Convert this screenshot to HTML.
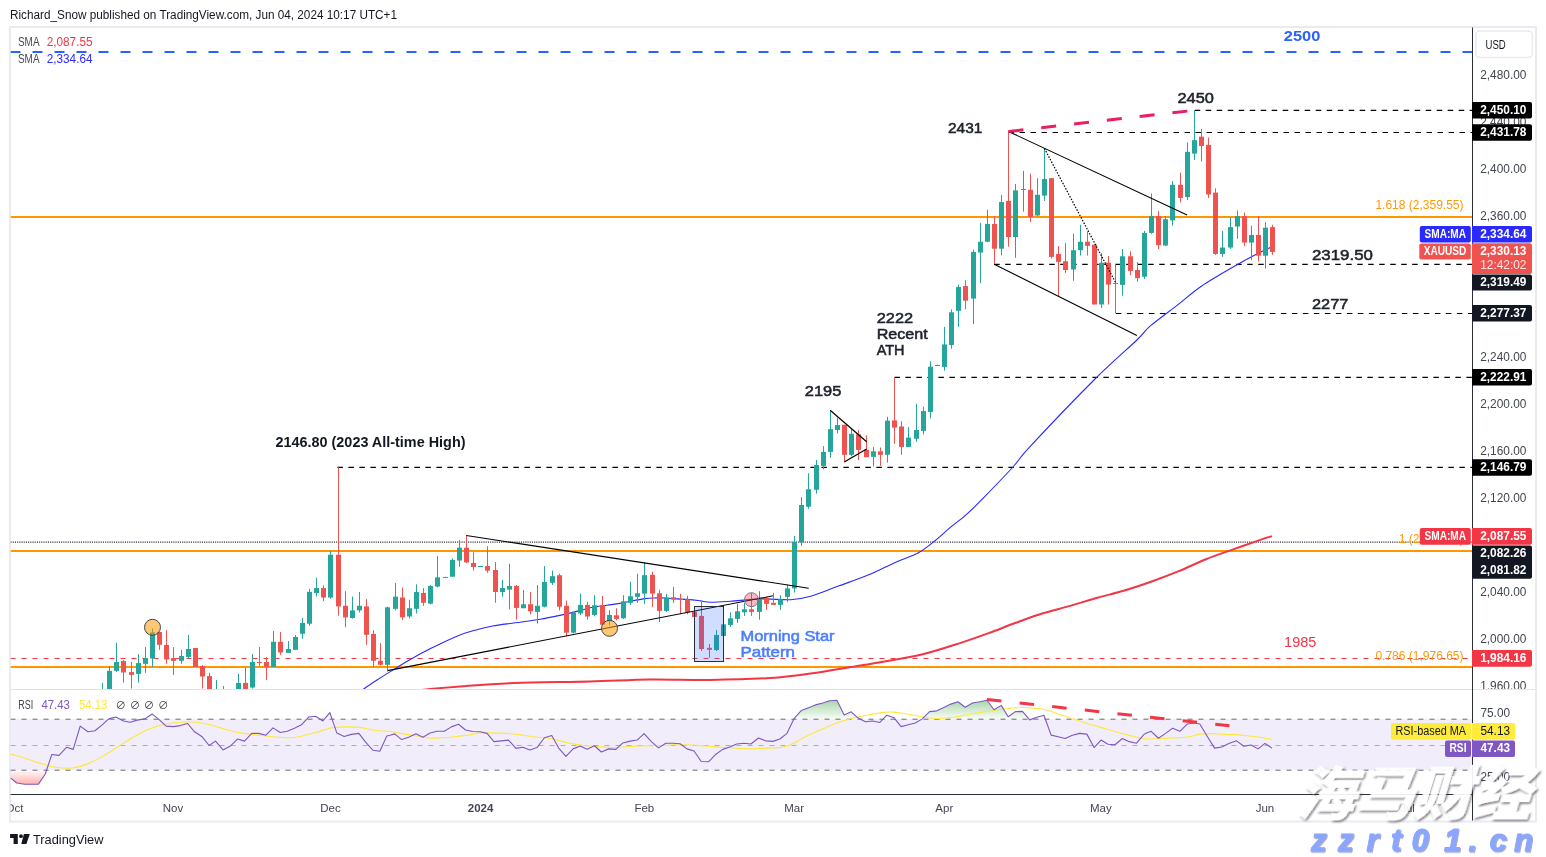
<!DOCTYPE html>
<html lang="en"><head><meta charset="utf-8"><title>XAUUSD chart - TradingView</title>
<style>
html,body{margin:0;padding:0;background:#fff;}
body{width:1546px;height:857px;overflow:hidden;}
svg{display:block;}
text{font-family:"Liberation Sans","Noto Sans CJK SC",sans-serif;}
.ax{font-size:12px;fill:#434651;}
.lb{font-size:12px;font-weight:bold;fill:#fff;}
.note{font-size:15px;font-weight:normal;fill:#1e222d;stroke:#1e222d;stroke-width:0.55px;}
.fib{font-size:12px;fill:#ff9800;}
</style></head><body>
<svg width="1546" height="857" viewBox="0 0 1546 857">
<defs>
<clipPath id="cm"><rect x="10.5" y="27.5" width="1462.0" height="662.0"/></clipPath>
<clipPath id="cr"><rect x="10.5" y="689.5" width="1462.0" height="105.0"/></clipPath>
<clipPath id="cob"><rect x="10.5" y="689.5" width="1462.0" height="29.700000000000045"/></clipPath>
<clipPath id="cos"><rect x="10.5" y="770.2" width="1462.0" height="24.299999999999955"/></clipPath>
<linearGradient id="gg" gradientUnits="userSpaceOnUse" x1="0" y1="698" x2="0" y2="719.2"><stop offset="0" stop-color="#4caf50" stop-opacity="0.55"/><stop offset="1" stop-color="#4caf50" stop-opacity="0.03"/></linearGradient>
<linearGradient id="gr" gradientUnits="userSpaceOnUse" x1="0" y1="770.2" x2="0" y2="786"><stop offset="0" stop-color="#ff5252" stop-opacity="0.03"/><stop offset="1" stop-color="#ff5252" stop-opacity="0.5"/></linearGradient>
<clipPath id="ct"><rect x="10.5" y="795" width="1500" height="26"/></clipPath>
</defs>
<rect width="1546" height="857" fill="#fff"/>
<text x="10" y="19" font-size="12" fill="#131722" textLength="387" lengthAdjust="spacingAndGlyphs">Richard_Snow published on TradingView.com, Jun 04, 2024 10:17 UTC+1</text>
<rect x="10" y="27" width="1526" height="794.5" fill="#fff" stroke="#e9ebf1" stroke-width="2"/>
<g clip-path="url(#cm)">
<line x1="10.5" y1="52" x2="1472.5" y2="52" stroke="#2962ff" stroke-width="2" stroke-dasharray="10 12" stroke-dashoffset="0"/>
<line x1="10.5" y1="216.9" x2="1472.5" y2="216.9" stroke="#ff9800" stroke-width="2"/>
<line x1="10.5" y1="551" x2="1472.5" y2="551" stroke="#ff9800" stroke-width="2"/>
<line x1="10.5" y1="666.9" x2="1472.5" y2="666.9" stroke="#ff9800" stroke-width="2"/>
<line x1="10.5" y1="542.1" x2="1472.5" y2="542.1" stroke="#2a2e39" stroke-width="1.15" stroke-dasharray="1.1 1.1"/>
<line x1="10.5" y1="658.5" x2="1472.5" y2="658.5" stroke="#f23645" stroke-width="1" stroke-dasharray="5 6"/>
<line x1="1194.7" y1="110.4" x2="1472.5" y2="110.4" stroke="#000" stroke-width="1.2" stroke-dasharray="5.5 5.5"/>
<line x1="1008.5" y1="132.5" x2="1472.5" y2="132.5" stroke="#000" stroke-width="1.2" stroke-dasharray="5.5 5.5"/>
<line x1="994.2" y1="264.4" x2="1472.5" y2="264.4" stroke="#000" stroke-width="1.2" stroke-dasharray="5.5 5.5"/>
<line x1="1115.9" y1="313.5" x2="1472.5" y2="313.5" stroke="#000" stroke-width="1.2" stroke-dasharray="5.5 5.5"/>
<line x1="894.4" y1="377.4" x2="1472.5" y2="377.4" stroke="#000" stroke-width="1.2" stroke-dasharray="5.5 5.5"/>
<line x1="337.4" y1="467.4" x2="1472.5" y2="467.4" stroke="#000" stroke-width="1.2" stroke-dasharray="5.5 5.5"/>
<text class="fib" x="1463.5" y="209" text-anchor="end">1.618 (2,359.55)</text>
<text class="fib" x="1463.5" y="543" text-anchor="end">1 (2,082.26)</text>
<text class="fib" x="1463.5" y="659.5" text-anchor="end">0.786 (1,976.65)</text>
<path d="M355 696 C356.33 694.92 359.33 692.17 363 689.5 C366.67 686.83 372.03 683.23 377 680 C381.97 676.77 387.25 673.5 392.8 670.1 C398.35 666.7 404.18 663.1 410.3 659.6 C416.42 656.1 421.63 653.05 429.5 649.1 C437.37 645.15 449.9 639.05 457.5 635.9 C465.1 632.75 469.25 631.85 475.1 630.2 C480.95 628.55 485.9 627.23 492.6 626 C499.3 624.77 507.4 623.92 515.3 622.8 C523.2 621.68 532.38 620.58 540 619.3 C547.62 618.02 554.53 616.5 561 615.1 C567.47 613.7 573.55 612.2 578.8 610.9 C584.05 609.6 587.77 608.25 592.5 607.3 C597.23 606.35 602.65 605.85 607.2 605.2 C611.75 604.55 615.25 604.2 619.8 603.4 C624.35 602.6 630.3 601.2 634.5 600.4 C638.7 599.6 641.85 599 645 598.6 C648.15 598.2 649.9 598.1 653.4 598 C656.9 597.9 662.15 597.85 666 598 C669.85 598.15 673 598.67 676.5 598.9 C680 599.13 683.08 599.08 687 599.4 C690.92 599.72 696.1 600.32 700 600.8 C703.9 601.28 705.33 602.22 710.4 602.3 C715.47 602.38 722.05 601.87 730.4 601.3 C738.75 600.73 750.47 599.17 760.5 598.9 C770.53 598.63 782.23 600.15 790.6 599.7 C798.97 599.25 802.75 598.47 810.7 596.2 C818.65 593.93 828.83 589.58 838.3 586.1 C847.77 582.62 857.83 579.33 867.5 575.3 C877.17 571.27 887.88 565.62 896.3 561.9 C904.72 558.18 911.67 556.43 918 553 C924.33 549.57 928.87 545.6 934.3 541.3 C939.73 537 945.17 531.73 950.6 527.2 C956.03 522.67 961.3 519.12 966.9 514.1 C972.5 509.08 976.45 505.03 984.2 497.1 C991.95 489.17 1005.77 474.92 1013.4 466.5 C1021.03 458.08 1016.57 461.02 1030 446.6 C1043.43 432.18 1076.18 397.77 1094 380 C1111.82 362.23 1127.47 349.05 1136.9 340 C1146.33 330.95 1143.7 331.63 1150.6 325.7 C1157.5 319.77 1169.78 311.02 1178.3 304.4 C1186.82 297.78 1191.97 292.57 1201.7 286 C1211.43 279.43 1227.47 270.35 1236.7 265 C1245.93 259.65 1251.52 256.82 1257.1 253.9 C1262.68 250.98 1268.02 248.57 1270.2 247.5" fill="none" stroke="#2a2aff" stroke-width="1.1" stroke-linejoin="round"/>
<path d="M405 692 C407.83 691.65 412.83 690.82 422 689.9 C431.17 688.98 444.67 687.65 460 686.5 C475.33 685.35 492.33 683.83 514 683 C535.67 682.17 567.33 682.08 590 681.5 C612.67 680.92 630 679.77 650 679.5 C670 679.23 689.9 680.17 710 679.9 C730.1 679.63 753.82 678.97 770.6 677.9 C787.38 676.83 797.33 675.3 810.7 673.5 C824.07 671.7 839.25 668.98 850.8 667.1 C862.35 665.22 868.35 664.25 880 662.2 C891.65 660.15 907.12 658.07 920.7 654.8 C934.28 651.53 950.17 646.22 961.5 642.6 C972.83 638.98 979.65 636.4 988.7 633.1 C997.75 629.8 1006.75 626.1 1015.8 622.8 C1024.85 619.5 1033.93 616.12 1043 613.3 C1052.07 610.48 1061.15 608.48 1070.2 605.9 C1079.25 603.32 1088.25 600.37 1097.3 597.8 C1106.35 595.23 1115.43 593.22 1124.5 590.5 C1133.57 587.78 1142.65 584.72 1151.7 581.5 C1160.75 578.28 1169.75 574.92 1178.8 571.2 C1187.85 567.48 1196.93 562.83 1206 559.2 C1215.07 555.57 1224.15 552.62 1233.2 549.4 C1242.25 546.18 1253.83 542.12 1260.3 539.9 C1266.77 537.68 1270.05 536.73 1272 536.1" fill="none" stroke="#f23645" stroke-width="2" stroke-linejoin="round"/>
<rect x="102" y="682.92" width="1" height="11.64" fill="#26a69a"/>
<rect x="100" y="694" width="5" height="1" fill="#26a69a"/>
<rect x="109" y="666.07" width="1" height="28.49" fill="#26a69a"/>
<rect x="107" y="670.88" width="5" height="23.68" fill="#26a69a"/>
<rect x="116" y="642.79" width="1" height="29.09" fill="#26a69a"/>
<rect x="114" y="662.05" width="5" height="8.83" fill="#26a69a"/>
<rect x="123" y="660.05" width="1" height="22.47" fill="#ef5350"/>
<rect x="121" y="661.05" width="5" height="11.44" fill="#ef5350"/>
<rect x="131" y="662.05" width="1" height="26.48" fill="#ef5350"/>
<rect x="129" y="672.09" width="5" height="2.81" fill="#ef5350"/>
<rect x="138" y="654.03" width="1" height="28.49" fill="#26a69a"/>
<rect x="136" y="663.06" width="5" height="10.83" fill="#26a69a"/>
<rect x="145" y="647.01" width="1" height="25.88" fill="#26a69a"/>
<rect x="143" y="658.04" width="5" height="5.82" fill="#26a69a"/>
<rect x="152" y="628.35" width="1" height="38.52" fill="#26a69a"/>
<rect x="150" y="632.36" width="5" height="26.08" fill="#26a69a"/>
<rect x="159" y="631.96" width="1" height="17.86" fill="#ef5350"/>
<rect x="157" y="631.96" width="5" height="12.84" fill="#ef5350"/>
<rect x="166" y="629.95" width="1" height="33.91" fill="#ef5350"/>
<rect x="164" y="645" width="5" height="14.45" fill="#ef5350"/>
<rect x="173" y="647.01" width="1" height="27.89" fill="#ef5350"/>
<rect x="171" y="658.04" width="5" height="2.81" fill="#ef5350"/>
<rect x="181" y="650.02" width="1" height="13.84" fill="#26a69a"/>
<rect x="179" y="656.04" width="5" height="4.82" fill="#26a69a"/>
<rect x="188" y="634.97" width="1" height="23.48" fill="#26a69a"/>
<rect x="186" y="649.01" width="5" height="8.03" fill="#26a69a"/>
<rect x="195" y="648.01" width="1" height="18.86" fill="#ef5350"/>
<rect x="193" y="648.01" width="5" height="18.86" fill="#ef5350"/>
<rect x="202" y="665.06" width="1" height="23.48" fill="#ef5350"/>
<rect x="200" y="666.07" width="5" height="10.43" fill="#ef5350"/>
<rect x="209" y="672.89" width="1" height="21.67" fill="#ef5350"/>
<rect x="207" y="676.1" width="5" height="18.46" fill="#ef5350"/>
<rect x="216" y="679.91" width="1" height="14.65" fill="#26a69a"/>
<rect x="214" y="694" width="5" height="1" fill="#26a69a"/>
<rect x="223" y="685.93" width="1" height="8.63" fill="#ef5350"/>
<rect x="221" y="694" width="5" height="1" fill="#ef5350"/>
<rect x="238" y="673.89" width="1" height="20.67" fill="#26a69a"/>
<rect x="236" y="682.92" width="5" height="11.64" fill="#26a69a"/>
<rect x="245" y="667.87" width="1" height="26.69" fill="#ef5350"/>
<rect x="243" y="682.92" width="5" height="11.64" fill="#ef5350"/>
<rect x="252" y="654.03" width="1" height="34.51" fill="#26a69a"/>
<rect x="250" y="662.05" width="5" height="25.48" fill="#26a69a"/>
<rect x="259" y="647.01" width="1" height="18.86" fill="#ef5350"/>
<rect x="257" y="662" width="5" height="1" fill="#ef5350"/>
<rect x="266" y="657.04" width="1" height="22.87" fill="#ef5350"/>
<rect x="264" y="662.05" width="5" height="4.82" fill="#ef5350"/>
<rect x="273" y="630.96" width="1" height="35.91" fill="#26a69a"/>
<rect x="271" y="641.79" width="5" height="25.08" fill="#26a69a"/>
<rect x="280" y="631.96" width="1" height="22.87" fill="#ef5350"/>
<rect x="278" y="641.79" width="5" height="10.63" fill="#ef5350"/>
<rect x="288" y="640.99" width="1" height="11.84" fill="#26a69a"/>
<rect x="286" y="649.01" width="5" height="3.81" fill="#26a69a"/>
<rect x="295" y="634.97" width="1" height="14.85" fill="#26a69a"/>
<rect x="293" y="636.97" width="5" height="12.84" fill="#26a69a"/>
<rect x="302" y="617.91" width="1" height="20.87" fill="#26a69a"/>
<rect x="300" y="622.93" width="5" height="10.83" fill="#26a69a"/>
<rect x="309" y="588.82" width="1" height="36.92" fill="#26a69a"/>
<rect x="307" y="591.83" width="5" height="31.9" fill="#26a69a"/>
<rect x="316" y="577.66" width="1" height="18.95" fill="#26a69a"/>
<rect x="314" y="588.06" width="5" height="4.89" fill="#26a69a"/>
<rect x="323" y="585.3" width="1" height="15.9" fill="#ef5350"/>
<rect x="321" y="588.06" width="5" height="9.48" fill="#ef5350"/>
<rect x="330" y="550.76" width="1" height="48" fill="#26a69a"/>
<rect x="328" y="554.73" width="5" height="42.8" fill="#26a69a"/>
<rect x="338" y="467.3" width="1" height="148.27" fill="#ef5350"/>
<rect x="336" y="554.73" width="5" height="51.67" fill="#ef5350"/>
<rect x="345" y="591.11" width="1" height="36.07" fill="#ef5350"/>
<rect x="343" y="605.79" width="5" height="11.62" fill="#ef5350"/>
<rect x="352" y="596.62" width="1" height="22.01" fill="#26a69a"/>
<rect x="350" y="610.37" width="5" height="7.64" fill="#26a69a"/>
<rect x="359" y="592.03" width="1" height="20.48" fill="#26a69a"/>
<rect x="357" y="605.79" width="5" height="4.59" fill="#26a69a"/>
<rect x="366" y="599.06" width="1" height="45.86" fill="#ef5350"/>
<rect x="364" y="606.4" width="5" height="28.43" fill="#ef5350"/>
<rect x="373" y="630.24" width="1" height="36.69" fill="#ef5350"/>
<rect x="371" y="633.91" width="5" height="26.9" fill="#ef5350"/>
<rect x="380" y="643.08" width="1" height="22.32" fill="#ef5350"/>
<rect x="378" y="660.82" width="5" height="3.97" fill="#ef5350"/>
<rect x="387" y="606.7" width="1" height="64.81" fill="#26a69a"/>
<rect x="385" y="607.32" width="5" height="57.47" fill="#26a69a"/>
<rect x="395" y="582.86" width="1" height="27.51" fill="#26a69a"/>
<rect x="393" y="596.62" width="5" height="12.23" fill="#26a69a"/>
<rect x="402" y="587.44" width="1" height="32.71" fill="#ef5350"/>
<rect x="400" y="597.53" width="5" height="19.87" fill="#ef5350"/>
<rect x="409" y="599.67" width="1" height="18.95" fill="#26a69a"/>
<rect x="407" y="608.23" width="5" height="8.25" fill="#26a69a"/>
<rect x="416" y="584.39" width="1" height="29.04" fill="#26a69a"/>
<rect x="414" y="592.03" width="5" height="16.81" fill="#26a69a"/>
<rect x="423" y="588.06" width="1" height="17.73" fill="#ef5350"/>
<rect x="421" y="592.95" width="5" height="9.78" fill="#ef5350"/>
<rect x="430" y="585" width="1" height="19.26" fill="#26a69a"/>
<rect x="428" y="585.92" width="5" height="17.73" fill="#26a69a"/>
<rect x="437" y="556.26" width="1" height="31.18" fill="#26a69a"/>
<rect x="435" y="577.36" width="5" height="9.17" fill="#26a69a"/>
<rect x="445" y="576.74" width="1" height="0.92" fill="#ef5350"/>
<rect x="443" y="577" width="5" height="1" fill="#ef5350"/>
<rect x="452" y="558.4" width="1" height="18.34" fill="#26a69a"/>
<rect x="450" y="559.93" width="5" height="16.81" fill="#26a69a"/>
<rect x="459" y="540.06" width="1" height="26.6" fill="#26a69a"/>
<rect x="457" y="547.7" width="5" height="12.84" fill="#26a69a"/>
<rect x="466" y="535.47" width="1" height="27.51" fill="#ef5350"/>
<rect x="464" y="547.7" width="5" height="14.67" fill="#ef5350"/>
<rect x="473" y="552.29" width="1" height="18.34" fill="#ef5350"/>
<rect x="471" y="562.99" width="5" height="3.97" fill="#ef5350"/>
<rect x="480" y="566.04" width="1" height="0.61" fill="#26a69a"/>
<rect x="478" y="566" width="5" height="1" fill="#26a69a"/>
<rect x="487" y="546.17" width="1" height="26.6" fill="#ef5350"/>
<rect x="485" y="566.04" width="5" height="4.59" fill="#ef5350"/>
<rect x="495" y="562.07" width="1" height="40.66" fill="#ef5350"/>
<rect x="493" y="570.02" width="5" height="22.01" fill="#ef5350"/>
<rect x="502" y="579.8" width="1" height="16.81" fill="#26a69a"/>
<rect x="500" y="588.06" width="5" height="3.97" fill="#26a69a"/>
<rect x="509" y="563.6" width="1" height="45.86" fill="#26a69a"/>
<rect x="507" y="585.92" width="5" height="3.67" fill="#26a69a"/>
<rect x="516" y="585" width="1" height="34.55" fill="#ef5350"/>
<rect x="514" y="585.92" width="5" height="22.01" fill="#ef5350"/>
<rect x="523" y="589.89" width="1" height="18.34" fill="#26a69a"/>
<rect x="521" y="604.26" width="5" height="3.97" fill="#26a69a"/>
<rect x="530" y="592.03" width="1" height="22.32" fill="#ef5350"/>
<rect x="528" y="604.26" width="5" height="7.03" fill="#ef5350"/>
<rect x="537" y="585" width="1" height="38.52" fill="#26a69a"/>
<rect x="535" y="605.79" width="5" height="6.11" fill="#26a69a"/>
<rect x="544" y="566.04" width="1" height="41.27" fill="#26a69a"/>
<rect x="542" y="581.94" width="5" height="24.76" fill="#26a69a"/>
<rect x="552" y="570.63" width="1" height="14.37" fill="#26a69a"/>
<rect x="550" y="576.13" width="5" height="6.73" fill="#26a69a"/>
<rect x="559" y="573.69" width="1" height="36.69" fill="#ef5350"/>
<rect x="557" y="575.22" width="5" height="31.49" fill="#ef5350"/>
<rect x="566" y="600.59" width="1" height="35.77" fill="#ef5350"/>
<rect x="564" y="605.79" width="5" height="26.9" fill="#ef5350"/>
<rect x="573" y="612.51" width="1" height="20.79" fill="#26a69a"/>
<rect x="571" y="612.51" width="5" height="20.18" fill="#26a69a"/>
<rect x="580" y="593.56" width="1" height="21.4" fill="#26a69a"/>
<rect x="578" y="604.87" width="5" height="8.56" fill="#26a69a"/>
<rect x="587" y="601.81" width="1" height="17.73" fill="#ef5350"/>
<rect x="585" y="604.87" width="5" height="11.62" fill="#ef5350"/>
<rect x="594" y="595.24" width="1" height="21.07" fill="#26a69a"/>
<rect x="592" y="605.27" width="5" height="9.63" fill="#26a69a"/>
<rect x="602" y="595.84" width="1" height="29.49" fill="#ef5350"/>
<rect x="600" y="605.27" width="5" height="19.46" fill="#ef5350"/>
<rect x="609" y="610.29" width="1" height="15.05" fill="#26a69a"/>
<rect x="607" y="614.9" width="5" height="6.42" fill="#26a69a"/>
<rect x="616" y="608.28" width="1" height="12.04" fill="#ef5350"/>
<rect x="614" y="615.3" width="5" height="3.61" fill="#ef5350"/>
<rect x="623" y="595.24" width="1" height="23.68" fill="#26a69a"/>
<rect x="621" y="601.26" width="5" height="17.05" fill="#26a69a"/>
<rect x="630" y="581.8" width="1" height="23.07" fill="#26a69a"/>
<rect x="628" y="596.24" width="5" height="6.62" fill="#26a69a"/>
<rect x="637" y="573.77" width="1" height="29.09" fill="#26a69a"/>
<rect x="635" y="593.23" width="5" height="3.61" fill="#26a69a"/>
<rect x="644" y="562.13" width="1" height="41.73" fill="#26a69a"/>
<rect x="642" y="575.18" width="5" height="18.46" fill="#26a69a"/>
<rect x="652" y="571.77" width="1" height="35.11" fill="#ef5350"/>
<rect x="650" y="574.78" width="5" height="18.86" fill="#ef5350"/>
<rect x="659" y="589.82" width="1" height="32.1" fill="#ef5350"/>
<rect x="657" y="593.23" width="5" height="17.66" fill="#ef5350"/>
<rect x="666" y="593.84" width="1" height="18.06" fill="#26a69a"/>
<rect x="664" y="597.65" width="5" height="13.24" fill="#26a69a"/>
<rect x="673" y="586.81" width="1" height="16.05" fill="#ef5350"/>
<rect x="671" y="597.25" width="5" height="2.41" fill="#ef5350"/>
<rect x="680" y="593.84" width="1" height="20.47" fill="#ef5350"/>
<rect x="678" y="599" width="5" height="1" fill="#ef5350"/>
<rect x="687" y="595.84" width="1" height="18.46" fill="#ef5350"/>
<rect x="685" y="599.25" width="5" height="13.04" fill="#ef5350"/>
<rect x="694" y="611.29" width="1" height="5.62" fill="#ef5350"/>
<rect x="692" y="611.69" width="5" height="5.22" fill="#ef5350"/>
<rect x="701" y="600.66" width="1" height="50.36" fill="#ef5350"/>
<rect x="699" y="615.91" width="5" height="33.11" fill="#ef5350"/>
<rect x="709" y="644" width="1" height="13.84" fill="#ef5350"/>
<rect x="707" y="647.81" width="5" height="2.01" fill="#ef5350"/>
<rect x="716" y="629.95" width="1" height="21.07" fill="#26a69a"/>
<rect x="714" y="634.97" width="5" height="15.05" fill="#26a69a"/>
<rect x="723" y="623.93" width="1" height="12.04" fill="#26a69a"/>
<rect x="721" y="624.33" width="5" height="11.64" fill="#26a69a"/>
<rect x="730" y="612.3" width="1" height="14.65" fill="#26a69a"/>
<rect x="728" y="618.31" width="5" height="6.62" fill="#26a69a"/>
<rect x="737" y="603.87" width="1" height="19.06" fill="#26a69a"/>
<rect x="735" y="611.29" width="5" height="7.62" fill="#26a69a"/>
<rect x="744" y="602.87" width="1" height="13.04" fill="#26a69a"/>
<rect x="742" y="609.29" width="5" height="3.01" fill="#26a69a"/>
<rect x="751" y="593.23" width="1" height="22.67" fill="#ef5350"/>
<rect x="749" y="609.29" width="5" height="2.61" fill="#ef5350"/>
<rect x="759" y="591.23" width="1" height="28.49" fill="#26a69a"/>
<rect x="757" y="597.85" width="5" height="14.04" fill="#26a69a"/>
<rect x="766" y="596.85" width="1" height="13.04" fill="#ef5350"/>
<rect x="764" y="597.85" width="5" height="6.02" fill="#ef5350"/>
<rect x="773" y="592.83" width="1" height="12.04" fill="#ef5350"/>
<rect x="771" y="602.87" width="5" height="2.01" fill="#ef5350"/>
<rect x="780" y="595.24" width="1" height="14.65" fill="#26a69a"/>
<rect x="778" y="599.25" width="5" height="5.62" fill="#26a69a"/>
<rect x="787" y="584.62" width="1" height="17.5" fill="#26a69a"/>
<rect x="785" y="588.41" width="5" height="8.46" fill="#26a69a"/>
<rect x="794" y="535.9" width="1" height="56.59" fill="#26a69a"/>
<rect x="792" y="541.74" width="5" height="46.67" fill="#26a69a"/>
<rect x="801" y="497.11" width="1" height="48.72" fill="#26a69a"/>
<rect x="799" y="504.98" width="5" height="37.34" fill="#26a69a"/>
<rect x="808" y="473.19" width="1" height="35.59" fill="#26a69a"/>
<rect x="806" y="489.23" width="5" height="17.5" fill="#26a69a"/>
<rect x="816" y="460.06" width="1" height="33.55" fill="#26a69a"/>
<rect x="814" y="465.02" width="5" height="24.8" fill="#26a69a"/>
<rect x="823" y="446.06" width="1" height="23.34" fill="#26a69a"/>
<rect x="821" y="451.89" width="5" height="14" fill="#26a69a"/>
<rect x="830" y="410.18" width="1" height="47.55" fill="#26a69a"/>
<rect x="828" y="429.14" width="5" height="22.75" fill="#26a69a"/>
<rect x="837" y="417.76" width="1" height="15.75" fill="#26a69a"/>
<rect x="835" y="425.05" width="5" height="4.96" fill="#26a69a"/>
<rect x="844" y="424.76" width="1" height="36.46" fill="#ef5350"/>
<rect x="842" y="424.76" width="5" height="30.05" fill="#ef5350"/>
<rect x="851" y="428.55" width="1" height="27.71" fill="#26a69a"/>
<rect x="849" y="433.8" width="5" height="21" fill="#26a69a"/>
<rect x="858" y="430.01" width="1" height="30.05" fill="#ef5350"/>
<rect x="856" y="434.39" width="5" height="15.46" fill="#ef5350"/>
<rect x="866" y="435.26" width="1" height="21.88" fill="#ef5350"/>
<rect x="864" y="449.85" width="5" height="7.29" fill="#ef5350"/>
<rect x="873" y="446.93" width="1" height="19.54" fill="#26a69a"/>
<rect x="871" y="451.31" width="5" height="5.54" fill="#26a69a"/>
<rect x="880" y="447.51" width="1" height="18.38" fill="#ef5350"/>
<rect x="878" y="451.31" width="5" height="3.5" fill="#ef5350"/>
<rect x="887" y="416.88" width="1" height="45.8" fill="#26a69a"/>
<rect x="885" y="420.68" width="5" height="34.13" fill="#26a69a"/>
<rect x="894" y="377.5" width="1" height="66.22" fill="#ef5350"/>
<rect x="892" y="420.39" width="5" height="7.29" fill="#ef5350"/>
<rect x="901" y="421.26" width="1" height="33.55" fill="#ef5350"/>
<rect x="899" y="426.51" width="5" height="20.42" fill="#ef5350"/>
<rect x="908" y="427.09" width="1" height="19.84" fill="#26a69a"/>
<rect x="906" y="437.6" width="5" height="9.33" fill="#26a69a"/>
<rect x="916" y="403.76" width="1" height="37.92" fill="#26a69a"/>
<rect x="914" y="430.01" width="5" height="8.75" fill="#26a69a"/>
<rect x="923" y="406.67" width="1" height="27.71" fill="#26a69a"/>
<rect x="921" y="411.05" width="5" height="19.84" fill="#26a69a"/>
<rect x="930" y="361.46" width="1" height="56.88" fill="#26a69a"/>
<rect x="928" y="366.71" width="5" height="45.22" fill="#26a69a"/>
<rect x="937" y="364.67" width="1" height="1.17" fill="#26a69a"/>
<rect x="935" y="365" width="5" height="1" fill="#26a69a"/>
<rect x="944" y="326.91" width="1" height="43.76" fill="#26a69a"/>
<rect x="942" y="344.41" width="5" height="22.46" fill="#26a69a"/>
<rect x="951" y="309.4" width="1" height="39.38" fill="#26a69a"/>
<rect x="949" y="312.32" width="5" height="32.67" fill="#26a69a"/>
<rect x="958" y="284.61" width="1" height="42.3" fill="#26a69a"/>
<rect x="956" y="286.94" width="5" height="23.92" fill="#26a69a"/>
<rect x="965" y="280.23" width="1" height="29.17" fill="#ef5350"/>
<rect x="963" y="286.07" width="5" height="14.59" fill="#ef5350"/>
<rect x="973" y="249.6" width="1" height="74.39" fill="#26a69a"/>
<rect x="971" y="251.94" width="5" height="46.67" fill="#26a69a"/>
<rect x="980" y="222.77" width="1" height="60.39" fill="#26a69a"/>
<rect x="978" y="241.73" width="5" height="10.79" fill="#26a69a"/>
<rect x="987" y="209.64" width="1" height="32.67" fill="#26a69a"/>
<rect x="985" y="223.93" width="5" height="17.79" fill="#26a69a"/>
<rect x="994" y="216.06" width="1" height="48.13" fill="#ef5350"/>
<rect x="992" y="223.93" width="5" height="24.8" fill="#ef5350"/>
<rect x="1001" y="195.05" width="1" height="60.39" fill="#26a69a"/>
<rect x="999" y="202.05" width="5" height="46.67" fill="#26a69a"/>
<rect x="1008" y="131.46" width="1" height="115.23" fill="#ef5350"/>
<rect x="1006" y="200.89" width="5" height="36.17" fill="#ef5350"/>
<rect x="1015" y="183.97" width="1" height="73.8" fill="#26a69a"/>
<rect x="1013" y="190.39" width="5" height="46.67" fill="#26a69a"/>
<rect x="1023" y="170.84" width="1" height="40.84" fill="#26a69a"/>
<rect x="1021" y="189" width="5" height="1" fill="#26a69a"/>
<rect x="1030" y="173.76" width="1" height="48.13" fill="#ef5350"/>
<rect x="1028" y="189.8" width="5" height="27.13" fill="#ef5350"/>
<rect x="1037" y="178.13" width="1" height="37.92" fill="#26a69a"/>
<rect x="1035" y="194.76" width="5" height="20.71" fill="#26a69a"/>
<rect x="1044" y="148.38" width="1" height="52.51" fill="#26a69a"/>
<rect x="1042" y="179.01" width="5" height="16.63" fill="#26a69a"/>
<rect x="1051" y="178.13" width="1" height="80.22" fill="#ef5350"/>
<rect x="1049" y="178.13" width="5" height="78.76" fill="#ef5350"/>
<rect x="1058" y="246.1" width="1" height="50.18" fill="#ef5350"/>
<rect x="1056" y="253.98" width="5" height="7.88" fill="#ef5350"/>
<rect x="1065" y="243.19" width="1" height="29.75" fill="#ef5350"/>
<rect x="1063" y="261.27" width="5" height="8.75" fill="#ef5350"/>
<rect x="1073" y="233.56" width="1" height="47.26" fill="#26a69a"/>
<rect x="1071" y="250.19" width="5" height="19.25" fill="#26a69a"/>
<rect x="1080" y="224.81" width="1" height="30.63" fill="#26a69a"/>
<rect x="1078" y="241.73" width="5" height="8.46" fill="#26a69a"/>
<rect x="1087" y="231.52" width="1" height="23.92" fill="#ef5350"/>
<rect x="1085" y="241.73" width="5" height="4.08" fill="#ef5350"/>
<rect x="1094" y="244.64" width="1" height="59.8" fill="#ef5350"/>
<rect x="1092" y="244.64" width="5" height="59.8" fill="#ef5350"/>
<rect x="1101" y="253.1" width="1" height="54.84" fill="#26a69a"/>
<rect x="1099" y="262.73" width="5" height="41.72" fill="#26a69a"/>
<rect x="1108" y="256.02" width="1" height="48.42" fill="#ef5350"/>
<rect x="1106" y="262.73" width="5" height="21.88" fill="#ef5350"/>
<rect x="1115" y="264.19" width="1" height="49.01" fill="#ef5350"/>
<rect x="1113" y="283" width="5" height="1" fill="#ef5350"/>
<rect x="1122" y="248.98" width="1" height="46.67" fill="#26a69a"/>
<rect x="1120" y="256.28" width="5" height="28.59" fill="#26a69a"/>
<rect x="1130" y="251.32" width="1" height="23.92" fill="#ef5350"/>
<rect x="1128" y="256.28" width="5" height="14.59" fill="#ef5350"/>
<rect x="1137" y="262.11" width="1" height="19.54" fill="#ef5350"/>
<rect x="1135" y="269.99" width="5" height="8.17" fill="#ef5350"/>
<rect x="1144" y="230.9" width="1" height="48.13" fill="#26a69a"/>
<rect x="1142" y="232.94" width="5" height="43.76" fill="#26a69a"/>
<rect x="1151" y="193.56" width="1" height="40.26" fill="#26a69a"/>
<rect x="1149" y="216.02" width="5" height="16.92" fill="#26a69a"/>
<rect x="1158" y="211.06" width="1" height="37.92" fill="#ef5350"/>
<rect x="1156" y="216.02" width="5" height="29.17" fill="#ef5350"/>
<rect x="1165" y="216.02" width="1" height="30.05" fill="#26a69a"/>
<rect x="1163" y="219.23" width="5" height="26.25" fill="#26a69a"/>
<rect x="1172" y="181.02" width="1" height="44.63" fill="#26a69a"/>
<rect x="1170" y="184.81" width="5" height="35.59" fill="#26a69a"/>
<rect x="1180" y="172.56" width="1" height="29.75" fill="#ef5350"/>
<rect x="1178" y="184.81" width="5" height="13.13" fill="#ef5350"/>
<rect x="1187" y="142.51" width="1" height="57.47" fill="#26a69a"/>
<rect x="1185" y="151.84" width="5" height="45.22" fill="#26a69a"/>
<rect x="1194" y="110.42" width="1" height="49.59" fill="#26a69a"/>
<rect x="1192" y="140.18" width="5" height="13.42" fill="#26a69a"/>
<rect x="1201" y="128.8" width="1" height="32.67" fill="#ef5350"/>
<rect x="1199" y="136.67" width="5" height="9.33" fill="#ef5350"/>
<rect x="1208" y="137.55" width="1" height="60.39" fill="#ef5350"/>
<rect x="1206" y="144.84" width="5" height="49.59" fill="#ef5350"/>
<rect x="1215" y="188.31" width="1" height="66.51" fill="#ef5350"/>
<rect x="1213" y="192.68" width="5" height="61.26" fill="#ef5350"/>
<rect x="1222" y="230.9" width="1" height="25.96" fill="#26a69a"/>
<rect x="1220" y="247.53" width="5" height="6.42" fill="#26a69a"/>
<rect x="1230" y="217.48" width="1" height="31.51" fill="#26a69a"/>
<rect x="1228" y="227.11" width="5" height="20.42" fill="#26a69a"/>
<rect x="1237" y="210.48" width="1" height="28.3" fill="#26a69a"/>
<rect x="1235" y="216.02" width="5" height="10.5" fill="#26a69a"/>
<rect x="1244" y="212.52" width="1" height="33.55" fill="#ef5350"/>
<rect x="1242" y="216.02" width="5" height="26.55" fill="#ef5350"/>
<rect x="1251" y="225.65" width="1" height="34.42" fill="#26a69a"/>
<rect x="1249" y="234.98" width="5" height="7.58" fill="#26a69a"/>
<rect x="1258" y="216.02" width="1" height="45.22" fill="#ef5350"/>
<rect x="1256" y="234.98" width="5" height="20.71" fill="#ef5350"/>
<rect x="1265" y="222.15" width="1" height="46.38" fill="#26a69a"/>
<rect x="1263" y="227.69" width="5" height="28" fill="#26a69a"/>
<rect x="1272" y="224.77" width="1" height="30.05" fill="#ef5350"/>
<rect x="1270" y="227.11" width="5" height="24.8" fill="#ef5350"/>
<line x1="466.3" y1="535.5" x2="808.7" y2="588.2" stroke="#000" stroke-width="1.1" />
<line x1="387.7" y1="670.6" x2="773" y2="595.8" stroke="#000" stroke-width="1.1" />
<line x1="830.2" y1="410.2" x2="866.6" y2="441.7" stroke="#000" stroke-width="1.2" />
<line x1="844.2" y1="462.1" x2="866.6" y2="449" stroke="#000" stroke-width="1.2" />
<line x1="1008.5" y1="131.5" x2="1187.1" y2="214.9" stroke="#000" stroke-width="1.1" />
<line x1="994.2" y1="264.2" x2="1136.9" y2="335.5" stroke="#000" stroke-width="1.1" />
<line x1="1044.4" y1="148.4" x2="1115.9" y2="283.2" stroke="#000" stroke-width="1.2" stroke-dasharray="1.5 1.5"/>
<line x1="1008.5" y1="131.5" x2="1194.5" y2="110.3" stroke="#e91e63" stroke-width="3" stroke-dasharray="15 18"/>
<rect x="694.5" y="606.5" width="29" height="55" fill="rgba(41,98,255,0.22)" stroke="#2a2e39" stroke-width="1"/>
<circle cx="152.5" cy="627.3" r="8" fill="rgba(255,152,0,0.55)" stroke="#434651" stroke-width="1"/>
<circle cx="609.5" cy="628.3" r="8" fill="rgba(255,152,0,0.55)" stroke="#434651" stroke-width="1"/>
<circle cx="751.5" cy="599.7" r="7" fill="rgba(242,54,69,0.35)" stroke="#787b86" stroke-width="1"/>
<text class="note" x="275.5" y="446.8" font-size="14" textLength="190" lengthAdjust="spacingAndGlyphs" style="font-size:13.8px;fill:#131722;font-weight:bold;stroke:none">2146.80 (2023 All-time High)</text>
<text class="note" x="948" y="133" textLength="34.3" lengthAdjust="spacingAndGlyphs">2431</text>
<text class="note" x="1177.5" y="103.3" textLength="36.4" lengthAdjust="spacingAndGlyphs">2450</text>
<text class="note" x="804.8" y="395.8" textLength="36.5" lengthAdjust="spacingAndGlyphs">2195</text>
<text class="note" x="876.7" y="322.9" textLength="36.4" lengthAdjust="spacingAndGlyphs">2222</text>
<text class="note" x="876.7" y="338.6" textLength="51.1" lengthAdjust="spacingAndGlyphs">Recent</text>
<text class="note" x="876.7" y="354.7" textLength="27.8" lengthAdjust="spacingAndGlyphs">ATH</text>
<text class="note" x="1312" y="259.7" textLength="60.9" lengthAdjust="spacingAndGlyphs">2319.50</text>
<text class="note" x="1312" y="308.8" textLength="36.3" lengthAdjust="spacingAndGlyphs">2277</text>
<text x="1284.1" y="647" font-size="15" fill="#f23645" textLength="32.3" lengthAdjust="spacingAndGlyphs">1985</text>
<text x="1283.8" y="41.2" font-size="15" font-weight="bold" fill="#2962ff" textLength="36.5" lengthAdjust="spacingAndGlyphs">2500</text>
<text x="740.5" y="641" font-size="15" fill="#4a7dff" stroke="#4a7dff" stroke-width="0.55" textLength="94" lengthAdjust="spacingAndGlyphs">Morning Star</text>
<text x="740.5" y="657" font-size="15" fill="#4a7dff" stroke="#4a7dff" stroke-width="0.55" textLength="54.5" lengthAdjust="spacingAndGlyphs">Pattern</text>
<text x="18" y="45.8" font-size="12" fill="#434651" textLength="21.5" lengthAdjust="spacingAndGlyphs">SMA</text>
<text x="46.7" y="45.8" font-size="12" fill="#f23645" textLength="45.8" lengthAdjust="spacingAndGlyphs">2,087.55</text>
<text x="18" y="62.7" font-size="12" fill="#434651" textLength="21.5" lengthAdjust="spacingAndGlyphs">SMA</text>
<text x="46.7" y="62.7" font-size="12" fill="#2a2aff" textLength="45.8" lengthAdjust="spacingAndGlyphs">2,334.64</text>
</g>
<g clip-path="url(#cr)">
<rect x="10.5" y="719.2" width="1462.0" height="51" fill="#f1edfa"/>
<path d="M10.35 777.85 L16.82 783.02 L24.58 784.32 L38.29 784.32 L45.28 773.97 L51.75 754.56 L58.99 755.34 L66.49 747.32 L73.22 749.39 L80.21 726.1 L87.97 731.8 L94.95 730.76 L102.2 724.81 L108.67 718.86 L115.91 717.05 L123.42 720.93 L130.14 722.22 L137.13 720.15 L144.89 718.86 L152.13 713.94 L159.12 719.64 L166.11 726.1 L173.35 726.62 L180.34 725.59 L187.58 723.52 L194.57 731.8 L201.81 736.45 L209.06 745.51 L215.52 741.11 L223.03 749.91 L230.27 746.03 L237.52 739.04 L244.5 741.11 L251.75 733.35 L258.73 733.35 L265.98 735.16 L272.96 727.91 L280.21 732.57 L287.19 731.28 L294.44 728.17 L301.42 724.81 L308.67 717.05 L315.65 716.27 L322.9 720.93 L329.88 712.65 L336.87 733.09 L344.11 736.45 L351.36 734.38 L358.86 733.35 L365.59 742.14 L372.83 750.17 L379.82 751.2 L386.8 735.94 L390 735.16 L394.66 733.87 L401.64 739.56 L408.63 737.23 L415.87 733.87 L422.86 737.23 L430.1 733.09 L437.09 731.28 L444.33 731.28 L451.32 726.88 L458.56 724.29 L465.55 729.98 L472.79 731.54 L480.04 731.8 L487.02 733.35 L494.01 741.63 L501.25 740.85 L508.5 740.08 L516 748.35 L522.73 747.32 L529.97 749.91 L536.96 747.58 L544.46 737.75 L551.71 735.42 L558.69 748.1 L565.94 756.38 L573.18 748.87 L580.17 746.03 L587.15 749.13 L594.4 745.77 L601.38 751.98 L608.63 748.87 L615.87 749.39 L622.86 742.92 L630.1 741.11 L637.09 740.08 L644.08 733.61 L651.32 741.63 L658.56 747.84 L665.81 743.18 L673.05 743.18 L680.04 743.7 L687.02 748.87 L694.01 750.94 L701.25 761.55 L708.5 761.81 L715.49 754.56 L722.73 749.39 L729.72 747.06 L736.7 743.96 L743.95 743.18 L750.93 743.96 L758.43 738.01 L765.68 740.85 L772.92 741.37 L779.91 739.04 L786.99 733.35 L794.23 718.34 L801.22 710.58 L808.46 707.73 L815.45 704.89 L822.69 703.08 L829.68 700.75 L836.92 700.23 L844.17 714.98 L851.15 711.87 L858.4 718.34 L865.38 721.71 L872.63 720.93 L879.87 722.48 L886.86 715.24 L894.1 717.82 L901.09 726.62 L908.33 724.81 L915.32 723 L922.3 718.86 L929.55 711.61 L936.79 710.84 L943.78 707.47 L950.76 704.11 L958.01 701.78 L965.25 707.22 L972.5 703.08 L979.74 701.78 L986.99 700.23 L993.97 709.8 L1001.22 705.4 L1008.2 716.79 L1015.45 711.61 L1022.43 711.36 L1029.68 719.89 L1036.92 717.31 L1043.91 715.24 L1051.15 735.16 L1058.14 736.71 L1065.12 738.52 L1072.37 735.16 L1079.61 733.35 L1086.86 734.12 L1094.1 747.58 L1101.09 740.08 L1108.07 744.21 L1115.06 744.73 L1122.3 738.52 L1129.29 741.63 L1136.53 743.18 L1143.78 734.64 L1146 733.35 L1151.17 731.28 L1158.42 738.26 L1165.66 733.35 L1172.65 728.17 L1179.89 731.28 L1187.14 724.03 L1194.12 723 L1199.82 724.03 L1207.32 736.45 L1214.56 748.1 L1221.81 747.06 L1228.79 743.44 L1236.56 740.85 L1243.8 746.28 L1251.05 744.99 L1258.03 748.87 L1265.02 743.44 L1272 748.1 L1272 719.2 L10.35 719.2 Z" fill="url(#gg)" clip-path="url(#cob)"/>
<path d="M10.35 777.85 L16.82 783.02 L24.58 784.32 L38.29 784.32 L45.28 773.97 L51.75 754.56 L58.99 755.34 L66.49 747.32 L73.22 749.39 L80.21 726.1 L87.97 731.8 L94.95 730.76 L102.2 724.81 L108.67 718.86 L115.91 717.05 L123.42 720.93 L130.14 722.22 L137.13 720.15 L144.89 718.86 L152.13 713.94 L159.12 719.64 L166.11 726.1 L173.35 726.62 L180.34 725.59 L187.58 723.52 L194.57 731.8 L201.81 736.45 L209.06 745.51 L215.52 741.11 L223.03 749.91 L230.27 746.03 L237.52 739.04 L244.5 741.11 L251.75 733.35 L258.73 733.35 L265.98 735.16 L272.96 727.91 L280.21 732.57 L287.19 731.28 L294.44 728.17 L301.42 724.81 L308.67 717.05 L315.65 716.27 L322.9 720.93 L329.88 712.65 L336.87 733.09 L344.11 736.45 L351.36 734.38 L358.86 733.35 L365.59 742.14 L372.83 750.17 L379.82 751.2 L386.8 735.94 L390 735.16 L394.66 733.87 L401.64 739.56 L408.63 737.23 L415.87 733.87 L422.86 737.23 L430.1 733.09 L437.09 731.28 L444.33 731.28 L451.32 726.88 L458.56 724.29 L465.55 729.98 L472.79 731.54 L480.04 731.8 L487.02 733.35 L494.01 741.63 L501.25 740.85 L508.5 740.08 L516 748.35 L522.73 747.32 L529.97 749.91 L536.96 747.58 L544.46 737.75 L551.71 735.42 L558.69 748.1 L565.94 756.38 L573.18 748.87 L580.17 746.03 L587.15 749.13 L594.4 745.77 L601.38 751.98 L608.63 748.87 L615.87 749.39 L622.86 742.92 L630.1 741.11 L637.09 740.08 L644.08 733.61 L651.32 741.63 L658.56 747.84 L665.81 743.18 L673.05 743.18 L680.04 743.7 L687.02 748.87 L694.01 750.94 L701.25 761.55 L708.5 761.81 L715.49 754.56 L722.73 749.39 L729.72 747.06 L736.7 743.96 L743.95 743.18 L750.93 743.96 L758.43 738.01 L765.68 740.85 L772.92 741.37 L779.91 739.04 L786.99 733.35 L794.23 718.34 L801.22 710.58 L808.46 707.73 L815.45 704.89 L822.69 703.08 L829.68 700.75 L836.92 700.23 L844.17 714.98 L851.15 711.87 L858.4 718.34 L865.38 721.71 L872.63 720.93 L879.87 722.48 L886.86 715.24 L894.1 717.82 L901.09 726.62 L908.33 724.81 L915.32 723 L922.3 718.86 L929.55 711.61 L936.79 710.84 L943.78 707.47 L950.76 704.11 L958.01 701.78 L965.25 707.22 L972.5 703.08 L979.74 701.78 L986.99 700.23 L993.97 709.8 L1001.22 705.4 L1008.2 716.79 L1015.45 711.61 L1022.43 711.36 L1029.68 719.89 L1036.92 717.31 L1043.91 715.24 L1051.15 735.16 L1058.14 736.71 L1065.12 738.52 L1072.37 735.16 L1079.61 733.35 L1086.86 734.12 L1094.1 747.58 L1101.09 740.08 L1108.07 744.21 L1115.06 744.73 L1122.3 738.52 L1129.29 741.63 L1136.53 743.18 L1143.78 734.64 L1146 733.35 L1151.17 731.28 L1158.42 738.26 L1165.66 733.35 L1172.65 728.17 L1179.89 731.28 L1187.14 724.03 L1194.12 723 L1199.82 724.03 L1207.32 736.45 L1214.56 748.1 L1221.81 747.06 L1228.79 743.44 L1236.56 740.85 L1243.8 746.28 L1251.05 744.99 L1258.03 748.87 L1265.02 743.44 L1272 748.1 L1272 770.2 L10.35 770.2 Z" fill="url(#gr)" clip-path="url(#cos)"/>
<line x1="10.5" y1="719.2" x2="1472.5" y2="719.2" stroke="#585b66" stroke-width="0.9" stroke-dasharray="5 6"/>
<line x1="10.5" y1="745.5" x2="1472.5" y2="745.5" stroke="#a5a7b0" stroke-width="0.9" stroke-dasharray="5 6"/>
<line x1="10.5" y1="770.2" x2="1472.5" y2="770.2" stroke="#585b66" stroke-width="0.9" stroke-dasharray="5 6"/>
<path d="M10.35 753.79 C12.94 754.56 20.7 756.81 25.87 758.45 C31.05 760.08 36.22 762.11 41.4 763.62 C46.57 765.13 51.75 766.77 56.92 767.5 C62.1 768.23 67.27 768.66 72.45 768.02 C77.62 767.37 82.79 765.65 87.97 763.62 C93.14 761.59 98.32 758.79 103.49 755.86 C108.67 752.93 113.84 749.26 119.02 746.03 C124.19 742.79 129.37 739.34 134.54 736.45 C139.72 733.56 144.89 730.76 150.06 728.69 C155.24 726.62 160.41 725.11 165.59 724.03 C170.76 722.96 175.94 722.52 181.11 722.22 C186.29 721.92 191.46 721.71 196.64 722.22 C201.81 722.74 206.99 724.03 212.16 725.33 C217.34 726.62 222.51 728.65 227.68 729.98 C232.86 731.32 238.03 732.49 243.21 733.35 C248.38 734.21 253.56 734.56 258.73 735.16 C263.91 735.76 269.08 736.54 274.26 736.97 C279.43 737.4 285.47 737.83 289.78 737.75 C294.09 737.66 295.82 737.32 300.13 736.45 C304.44 735.59 310.69 733.95 315.65 732.57 C320.61 731.19 325.14 729.12 329.88 728.17 C334.63 727.22 339.15 727.01 344.11 726.88 C349.07 726.75 354.89 726.88 359.64 727.4 C364.38 727.91 368.26 729.34 372.57 729.98 C376.89 730.63 382.61 731.06 385.51 731.28 C388.42 731.49 387.1 730.85 390 731.28 C392.9 731.71 398.62 733.13 402.94 733.87 C407.25 734.6 411.56 734.99 415.87 735.68 C420.19 736.37 424.5 737.66 428.81 738.01 C433.12 738.35 437.43 737.96 441.75 737.75 C446.06 737.53 450.37 737.14 454.68 736.71 C459 736.28 463.31 735.81 467.62 735.16 C471.93 734.51 476.24 733.18 480.56 732.83 C484.87 732.49 489.18 733 493.49 733.09 C497.81 733.18 502.12 733.09 506.43 733.35 C510.74 733.61 514.62 734.04 519.37 734.64 C524.11 735.25 529.72 736.32 534.89 736.97 C540.06 737.62 545.24 737.62 550.41 738.52 C555.59 739.43 560.76 741.28 565.94 742.4 C571.11 743.52 576.29 744.56 581.46 745.25 C586.64 745.94 591.81 746.16 596.99 746.54 C602.16 746.93 607.34 747.58 612.51 747.58 C617.68 747.58 622.86 746.85 628.03 746.54 C633.21 746.24 638.38 745.9 643.56 745.77 C648.73 745.64 653.91 745.94 659.08 745.77 C664.26 745.59 669.43 744.86 674.61 744.73 C679.78 744.6 684.95 744.78 690.13 744.99 C695.3 745.21 700.48 745.64 705.65 746.03 C710.83 746.41 716 746.97 721.18 747.32 C726.35 747.66 731.96 747.84 736.7 748.1 C741.44 748.35 745.33 748.87 749.64 748.87 C753.95 748.87 757.83 748.31 762.57 748.1 C767.32 747.88 775.19 747.66 778.1 747.58 C781 747.49 777.96 748.01 780 747.58 C782.04 747.15 786.04 746.85 790.35 744.99 C794.66 743.14 800.7 739.04 805.87 736.45 C811.05 733.87 816.22 731.71 821.4 729.47 C826.57 727.22 831.75 724.85 836.92 723 C842.1 721.14 847.27 719.68 852.45 718.34 C857.62 717 862.79 715.97 867.97 714.98 C873.14 713.99 879.18 712.87 883.49 712.39 C887.81 711.92 889.53 711.79 893.84 712.13 C898.15 712.48 904.19 713.6 909.37 714.46 C914.54 715.32 920.15 716.62 924.89 717.31 C929.63 718 933.51 718.56 937.83 718.6 C942.14 718.64 946.02 718.17 950.76 717.57 C955.51 716.96 961.11 715.88 966.29 714.98 C971.46 714.07 976.64 712.95 981.81 712.13 C986.99 711.31 992.16 710.75 997.34 710.06 C1002.51 709.37 1008.55 708.42 1012.86 707.99 C1017.17 707.56 1019.76 707.43 1023.21 707.47 C1026.66 707.52 1030.11 707.95 1033.56 708.25 C1037.01 708.55 1040.46 708.55 1043.91 709.29 C1047.36 710.02 1049.94 711.23 1054.26 712.65 C1058.57 714.07 1064.61 716.1 1069.78 717.82 C1074.95 719.55 1080.13 721.4 1085.3 723 C1090.48 724.59 1095.65 725.89 1100.83 727.4 C1106 728.91 1111.18 730.63 1116.35 732.05 C1121.53 733.48 1127.56 734.86 1131.88 735.94 C1136.19 737.01 1139.87 738.01 1142.23 738.52 C1144.58 739.04 1143.21 739.04 1146 739.04 C1148.79 739.04 1154.62 738.7 1158.94 738.52 C1163.25 738.35 1167.13 738.26 1171.87 738.01 C1176.62 737.75 1182.65 737.62 1187.4 736.97 C1192.14 736.32 1196.02 734.68 1200.33 734.12 C1204.65 733.56 1209.39 733.56 1213.27 733.61 C1217.15 733.65 1219.74 734.21 1223.62 734.38 C1227.5 734.56 1232.24 734.38 1236.56 734.64 C1240.87 734.9 1245.61 735.5 1249.49 735.94 C1253.37 736.37 1256.09 736.67 1259.84 737.23 C1263.59 737.79 1269.98 738.95 1272 739.3" fill="none" stroke="#ffe83b" stroke-width="1.1" stroke-linejoin="round"/>
<path d="M10.35 777.85 L16.82 783.02 L24.58 784.32 L38.29 784.32 L45.28 773.97 L51.75 754.56 L58.99 755.34 L66.49 747.32 L73.22 749.39 L80.21 726.1 L87.97 731.8 L94.95 730.76 L102.2 724.81 L108.67 718.86 L115.91 717.05 L123.42 720.93 L130.14 722.22 L137.13 720.15 L144.89 718.86 L152.13 713.94 L159.12 719.64 L166.11 726.1 L173.35 726.62 L180.34 725.59 L187.58 723.52 L194.57 731.8 L201.81 736.45 L209.06 745.51 L215.52 741.11 L223.03 749.91 L230.27 746.03 L237.52 739.04 L244.5 741.11 L251.75 733.35 L258.73 733.35 L265.98 735.16 L272.96 727.91 L280.21 732.57 L287.19 731.28 L294.44 728.17 L301.42 724.81 L308.67 717.05 L315.65 716.27 L322.9 720.93 L329.88 712.65 L336.87 733.09 L344.11 736.45 L351.36 734.38 L358.86 733.35 L365.59 742.14 L372.83 750.17 L379.82 751.2 L386.8 735.94 L390 735.16 L394.66 733.87 L401.64 739.56 L408.63 737.23 L415.87 733.87 L422.86 737.23 L430.1 733.09 L437.09 731.28 L444.33 731.28 L451.32 726.88 L458.56 724.29 L465.55 729.98 L472.79 731.54 L480.04 731.8 L487.02 733.35 L494.01 741.63 L501.25 740.85 L508.5 740.08 L516 748.35 L522.73 747.32 L529.97 749.91 L536.96 747.58 L544.46 737.75 L551.71 735.42 L558.69 748.1 L565.94 756.38 L573.18 748.87 L580.17 746.03 L587.15 749.13 L594.4 745.77 L601.38 751.98 L608.63 748.87 L615.87 749.39 L622.86 742.92 L630.1 741.11 L637.09 740.08 L644.08 733.61 L651.32 741.63 L658.56 747.84 L665.81 743.18 L673.05 743.18 L680.04 743.7 L687.02 748.87 L694.01 750.94 L701.25 761.55 L708.5 761.81 L715.49 754.56 L722.73 749.39 L729.72 747.06 L736.7 743.96 L743.95 743.18 L750.93 743.96 L758.43 738.01 L765.68 740.85 L772.92 741.37 L779.91 739.04 L786.99 733.35 L794.23 718.34 L801.22 710.58 L808.46 707.73 L815.45 704.89 L822.69 703.08 L829.68 700.75 L836.92 700.23 L844.17 714.98 L851.15 711.87 L858.4 718.34 L865.38 721.71 L872.63 720.93 L879.87 722.48 L886.86 715.24 L894.1 717.82 L901.09 726.62 L908.33 724.81 L915.32 723 L922.3 718.86 L929.55 711.61 L936.79 710.84 L943.78 707.47 L950.76 704.11 L958.01 701.78 L965.25 707.22 L972.5 703.08 L979.74 701.78 L986.99 700.23 L993.97 709.8 L1001.22 705.4 L1008.2 716.79 L1015.45 711.61 L1022.43 711.36 L1029.68 719.89 L1036.92 717.31 L1043.91 715.24 L1051.15 735.16 L1058.14 736.71 L1065.12 738.52 L1072.37 735.16 L1079.61 733.35 L1086.86 734.12 L1094.1 747.58 L1101.09 740.08 L1108.07 744.21 L1115.06 744.73 L1122.3 738.52 L1129.29 741.63 L1136.53 743.18 L1143.78 734.64 L1146 733.35 L1151.17 731.28 L1158.42 738.26 L1165.66 733.35 L1172.65 728.17 L1179.89 731.28 L1187.14 724.03 L1194.12 723 L1199.82 724.03 L1207.32 736.45 L1214.56 748.1 L1221.81 747.06 L1228.79 743.44 L1236.56 740.85 L1243.8 746.28 L1251.05 744.99 L1258.03 748.87 L1265.02 743.44 L1272 748.1" fill="none" stroke="#7e57c2" stroke-width="1.1" stroke-linejoin="round"/>
<line x1="987" y1="699.5" x2="1229.5" y2="725.8" stroke="#f23645" stroke-width="3" stroke-dasharray="14.5 18.3"/>
<text x="18.3" y="709.2" font-size="12" fill="#434651" textLength="15" lengthAdjust="spacingAndGlyphs">RSI</text>
<text x="41.4" y="709.2" font-size="12" fill="#7e57c2" textLength="28.5" lengthAdjust="spacingAndGlyphs">47.43</text>
<text x="78.9" y="709.2" font-size="12" fill="#ffe83b" textLength="28.5" lengthAdjust="spacingAndGlyphs">54.13</text>
<text x="115.5" y="709" font-size="10.5" fill="#434651" textLength="53" lengthAdjust="spacing">∅ ∅ ∅ ∅</text>
</g>
<line x1="10.5" y1="689.5" x2="1535" y2="689.5" stroke="#e0e3eb" stroke-width="1"/>
<line x1="10.5" y1="794.5" x2="1473.0" y2="794.5" stroke="#2a2e39" stroke-width="1"/>
<line x1="1472.5" y1="27.5" x2="1472.5" y2="820.5" stroke="#2a2e39" stroke-width="1"/>
<g>
<text class="ax" x="1480.2" y="79.06" textLength="46.2" lengthAdjust="spacingAndGlyphs">2,480.00</text>
<text class="ax" x="1480.2" y="126.08" textLength="46.2" lengthAdjust="spacingAndGlyphs">2,440.00</text>
<text class="ax" x="1480.2" y="173.1" textLength="46.2" lengthAdjust="spacingAndGlyphs">2,400.00</text>
<text class="ax" x="1480.2" y="220.12" textLength="46.2" lengthAdjust="spacingAndGlyphs">2,360.00</text>
<text class="ax" x="1480.2" y="361.18" textLength="46.2" lengthAdjust="spacingAndGlyphs">2,240.00</text>
<text class="ax" x="1480.2" y="408.2" textLength="46.2" lengthAdjust="spacingAndGlyphs">2,200.00</text>
<text class="ax" x="1480.2" y="455.22" textLength="46.2" lengthAdjust="spacingAndGlyphs">2,160.00</text>
<text class="ax" x="1480.2" y="502.24" textLength="46.2" lengthAdjust="spacingAndGlyphs">2,120.00</text>
<text class="ax" x="1480.2" y="596.28" textLength="46.2" lengthAdjust="spacingAndGlyphs">2,040.00</text>
<text class="ax" x="1480.2" y="643.3" textLength="46.2" lengthAdjust="spacingAndGlyphs">2,000.00</text>
<svg x="1474" y="670" width="60" height="19" viewBox="1474 670 60 19"><text class="ax" x="1480.2" y="690.32" textLength="46.2" lengthAdjust="spacingAndGlyphs">1,960.00</text></svg>
<text class="ax" x="1480.5" y="716.6" textLength="29.5" lengthAdjust="spacingAndGlyphs">75.00</text>
<text class="ax" x="1480.5" y="781.2" textLength="29.5" lengthAdjust="spacingAndGlyphs">25.00</text>
</g>
<path d="M1472 102 H1530 Q1532 102 1532 104 V116.6 Q1532 118.6 1530 118.6 H1472 Z" fill="#000"/>
<text class="lb" x="1480.2" y="113.9" fill="#fff" style="fill:#fff" textLength="46.2" lengthAdjust="spacingAndGlyphs">2,450.10</text>
<path d="M1472 124.2 H1530 Q1532 124.2 1532 126.2 V138.8 Q1532 140.8 1530 140.8 H1472 Z" fill="#000"/>
<text class="lb" x="1480.2" y="136.1" fill="#fff" style="fill:#fff" textLength="46.2" lengthAdjust="spacingAndGlyphs">2,431.78</text>
<path d="M1472 226 H1530 Q1532 226 1532 228 V240.6 Q1532 242.6 1530 242.6 H1472 Z" fill="#2a2aff"/>
<text class="lb" x="1480.2" y="237.9" fill="#fff" style="fill:#fff" textLength="46.2" lengthAdjust="spacingAndGlyphs">2,334.64</text>
<path d="M1472 243.3 H1530 Q1532 243.3 1532 245.3 V271.9 Q1532 273.9 1530 273.9 H1472 Z" fill="#ef5350"/>
<text class="lb" x="1480.2" y="254.9" textLength="46.2" lengthAdjust="spacingAndGlyphs">2,330.13</text>
<text x="1480.2" y="268.9" font-size="12" fill="#fff" fill-opacity="0.85" textLength="46.2" lengthAdjust="spacingAndGlyphs">12:42:02</text>
<path d="M1472 274.5 H1530 Q1532 274.5 1532 276.5 V288.5 Q1532 290.5 1530 290.5 H1472 Z" fill="#131722"/>
<text class="lb" x="1480.2" y="286.1" fill="#fff" style="fill:#fff" textLength="46.2" lengthAdjust="spacingAndGlyphs">2,319.49</text>
<path d="M1472 305.1 H1530 Q1532 305.1 1532 307.1 V319.5 Q1532 321.5 1530 321.5 H1472 Z" fill="#131722"/>
<text class="lb" x="1480.2" y="316.9" fill="#fff" style="fill:#fff" textLength="46.2" lengthAdjust="spacingAndGlyphs">2,277.37</text>
<path d="M1472 369 H1530 Q1532 369 1532 371 V383.6 Q1532 385.6 1530 385.6 H1472 Z" fill="#000"/>
<text class="lb" x="1480.2" y="380.9" fill="#fff" style="fill:#fff" textLength="46.2" lengthAdjust="spacingAndGlyphs">2,222.91</text>
<path d="M1472 459.2 H1530 Q1532 459.2 1532 461.2 V473.8 Q1532 475.8 1530 475.8 H1472 Z" fill="#000"/>
<text class="lb" x="1480.2" y="471.1" fill="#fff" style="fill:#fff" textLength="46.2" lengthAdjust="spacingAndGlyphs">2,146.79</text>
<path d="M1472 528.1 H1530 Q1532 528.1 1532 530.1 V542.7 Q1532 544.7 1530 544.7 H1472 Z" fill="#f23645"/>
<text class="lb" x="1480.2" y="540" fill="#fff" style="fill:#fff" textLength="46.2" lengthAdjust="spacingAndGlyphs">2,087.55</text>
<path d="M1472 545.4 H1530 Q1532 545.4 1532 547.4 V576.8 Q1532 578.8 1530 578.8 H1472 Z" fill="#131722"/>
<text class="lb" x="1480.2" y="556.9" textLength="46.2" lengthAdjust="spacingAndGlyphs">2,082.26</text>
<text class="lb" x="1480.2" y="573.7" textLength="46.2" lengthAdjust="spacingAndGlyphs">2,081.82</text>
<path d="M1472 650.1 H1530 Q1532 650.1 1532 652.1 V664.7 Q1532 666.7 1530 666.7 H1472 Z" fill="#f23645"/>
<text class="lb" x="1480.2" y="662" fill="#fff" style="fill:#fff" textLength="46.2" lengthAdjust="spacingAndGlyphs">1,984.16</text>
<rect x="1419.8" y="226" width="51" height="16.6" rx="2" fill="#2a2aff"/>
<text class="lb" x="1424.5" y="237.9" fill="#fff" style="fill:#fff" textLength="41.5" lengthAdjust="spacingAndGlyphs">SMA:MA</text>
<rect x="1419.3" y="243.5" width="51.5" height="16" rx="2" fill="#ef5350"/>
<text class="lb" x="1423.8" y="255.1" fill="#fff" style="fill:#fff" textLength="42.5" lengthAdjust="spacingAndGlyphs">XAUUSD</text>
<rect x="1419.8" y="528.1" width="51" height="16.6" rx="2" fill="#f23645"/>
<text class="lb" x="1424.5" y="540" fill="#fff" style="fill:#fff" textLength="41.5" lengthAdjust="spacingAndGlyphs">SMA:MA</text>
<rect x="1391" y="723" width="80" height="16.8" rx="2" fill="#ffeb3b"/>
<text x="1395.5" y="735" font-size="12" fill="#131722" textLength="70.5" lengthAdjust="spacingAndGlyphs">RSI-based MA</text>
<path d="M1472 723 H1513 Q1515 723 1515 725 V737.8 Q1515 739.8 1513 739.8 H1472 Z" fill="#ffeb3b"/>
<text x="1480.5" y="735" font-size="12" fill="#131722" textLength="29.5" lengthAdjust="spacingAndGlyphs">54.13</text>
<rect x="1445" y="740.5" width="26" height="16.4" rx="2" fill="#7e57c2"/>
<text class="lb" x="1449.5" y="752.3" textLength="17" lengthAdjust="spacingAndGlyphs">RSI</text>
<path d="M1472 740.5 H1513 Q1515 740.5 1515 742.5 V754.9 Q1515 756.9 1513 756.9 H1472 Z" fill="#7e57c2"/>
<text class="lb" x="1480.5" y="752.3" textLength="29.5" lengthAdjust="spacingAndGlyphs">47.43</text>
<rect x="1475.8" y="31" width="56.5" height="26.5" rx="4" fill="#fff" stroke="#e9ebf1" stroke-width="1.5"/>
<text x="1485.5" y="48.9" font-size="12" fill="#131722" textLength="20.2" lengthAdjust="spacingAndGlyphs">USD</text>
<g clip-path="url(#ct)">
<text class="ax" x="14.5" y="811.8" style="font-size:11.5px" text-anchor="middle">Oct</text>
<text class="ax" x="173" y="811.8" style="font-size:11.5px" text-anchor="middle">Nov</text>
<text class="ax" x="330.5" y="811.8" style="font-size:11.5px" text-anchor="middle">Dec</text>
<text class="ax" x="480.6" y="811.8" style="font-size:11.5px" text-anchor="middle" font-weight="bold">2024</text>
<text class="ax" x="644.3" y="811.8" style="font-size:11.5px" text-anchor="middle">Feb</text>
<text class="ax" x="794.2" y="811.8" style="font-size:11.5px" text-anchor="middle">Mar</text>
<text class="ax" x="944.3" y="811.8" style="font-size:11.5px" text-anchor="middle">Apr</text>
<text class="ax" x="1100.8" y="811.8" style="font-size:11.5px" text-anchor="middle">May</text>
<text class="ax" x="1265" y="811.8" style="font-size:11.5px" text-anchor="middle">Jun</text>
<text class="ax" x="1407.5" y="811.8" style="font-size:11.5px" text-anchor="middle">Jul</text>
</g>
<g fill="#131722">
<path d="M10.1 834 H17.8 V843.9 H13.6 V838.1 H10.1 Z"/>
<circle cx="21" cy="836.2" r="1.9"/>
<path d="M23.9 834 H29.8 L26.4 843.9 H21.3 Z"/>
</g>
<text x="33" y="843.9" font-size="12.6" fill="#131722" textLength="70.5" lengthAdjust="spacingAndGlyphs">TradingView</text>
<defs><filter id="ws" x="-5%" y="-10%" width="115%" height="130%"><feDropShadow dx="1.8" dy="1.8" stdDeviation="0.9" flood-color="#20222b" flood-opacity="0.62"/></filter>
<filter id="ws2" x="-5%" y="-10%" width="110%" height="130%"><feDropShadow dx="1" dy="1.2" stdDeviation="0.5" flood-color="#5b5b9a" flood-opacity="0.55"/></filter></defs>
<g transform="translate(1296 814.5) skewX(-17)" filter="url(#ws)" opacity="0.92">
<text x="0" y="0" font-size="58" font-weight="900" fill="#fff" style="font-family:'Liberation Sans','Noto Sans CJK SC',sans-serif" textLength="234" lengthAdjust="spacingAndGlyphs">海马财经</text>
</g>
<text x="1311 1338 1366.5 1391 1411.5 1444 1468.5 1489.5 1514" y="850.8" font-size="31" font-weight="bold" font-style="italic" fill="#8aa6ff" stroke="#8aa6ff" stroke-width="1" filter="url(#ws2)">zzrt01.cn</text>
</svg>
</body></html>
